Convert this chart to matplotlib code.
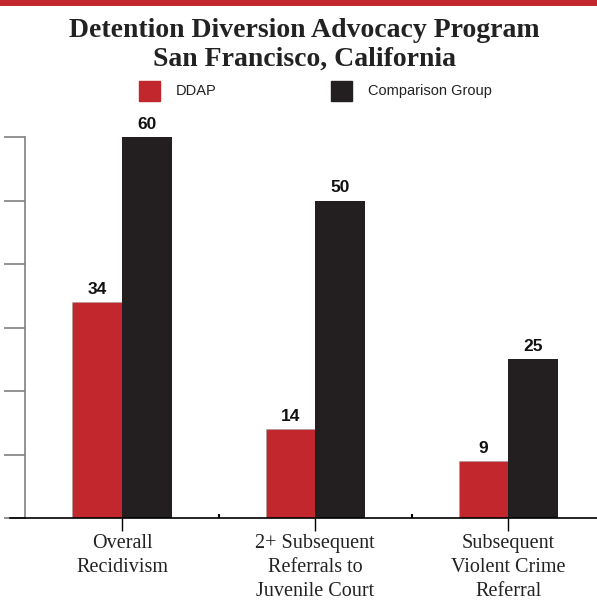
import matplotlib.pyplot as plt
import numpy as np
from matplotlib.lines import Line2D
from matplotlib.patches import Rectangle

categories = ["Overall\nRecidivism", "2+ Subsequent\nReferrals to\nJuvenile Court",
              "Subsequent\nViolent Crime\nReferral"]
ddap = [34, 14, 9]
comparison = [60, 50, 25]
series_names = ["DDAP", "Comparison Group"]

red = "#C1272D"
black = "#231F20"

fig = plt.figure(figsize=(5.97, 6), dpi=100)
ax = fig.add_axes([25 / 597, 1 - 518 / 600, 1 - 25 / 597, (518 - 137) / 600])

x = np.arange(len(categories))
w = 0.257
ax.bar(x - w / 2, ddap, w, color=red, edgecolor="#a0a0a0", linewidth=0.4)
ax.bar(x + w / 2, comparison, w, color=black)

for xi, v in zip(x - w / 2, ddap):
    ax.text(xi, v + 0.8, str(v), ha="center", va="bottom", fontsize=12.5,
            fontweight="bold", family="Liberation Sans", color="#111111")
for xi, v in zip(x + w / 2, comparison):
    ax.text(xi, v + 0.8, str(v), ha="center", va="bottom", fontsize=12.5,
            fontweight="bold", family="Liberation Sans", color="#111111")

ax.set_xlim(-0.503, 2.46)
ax.set_ylim(0, 60)
ax.set_yticks(range(0, 61, 10))
ax.set_yticklabels([])
ax.tick_params(axis="y", length=15, color="#808080", width=1.2, direction="out")
ax.spines["left"].set_color("#808080")
ax.spines["left"].set_linewidth(1.2)
ax.spines["top"].set_visible(False)
ax.spines["right"].set_visible(False)
ax.spines["bottom"].set_linewidth(1.2)
ax.spines["bottom"].set_bounds(-0.58, 2.46)
ax.set_xticks(x)
ax.set_xticklabels(categories, family="Liberation Serif", fontsize=14.5,
                   linespacing=1.36, va="top", color="#222222")
ax.tick_params(axis="x", length=9, width=1, pad=2.5)
ax.set_xticks([0.5, 1.5], minor=True)
ax.tick_params(axis="x", which="minor", length=3, direction="in", width=1.5)

# red band along the top
fig.add_artist(Line2D([0, 1], [0.996, 0.996], color=red, linewidth=5,
                      transform=fig.transFigure))

fig.text(0.51, 1 - 37 / 600, "Detention Diversion Advocacy Program", ha="center",
         va="baseline", fontsize=20, fontweight="bold", family="Liberation Serif",
         color="#222222")
fig.text(0.51, 1 - 66 / 600, "San Francisco, California", ha="center", va="baseline",
         fontsize=20, fontweight="bold", family="Liberation Serif", color="#222222")

# legend
for px, col, name in [(139, red, series_names[0]), (331, black, series_names[1])]:
    fig.add_artist(Rectangle((px / 597, 1 - 101 / 600), 21 / 597, 20 / 600,
                             color=col, transform=fig.transFigure))
    fig.text((px + 37) / 597, 1 - 91 / 600, name, ha="left", va="center",
             fontsize=10.5, family="Liberation Sans", color="#222222")

plt.savefig("out.png", dpi=100)
